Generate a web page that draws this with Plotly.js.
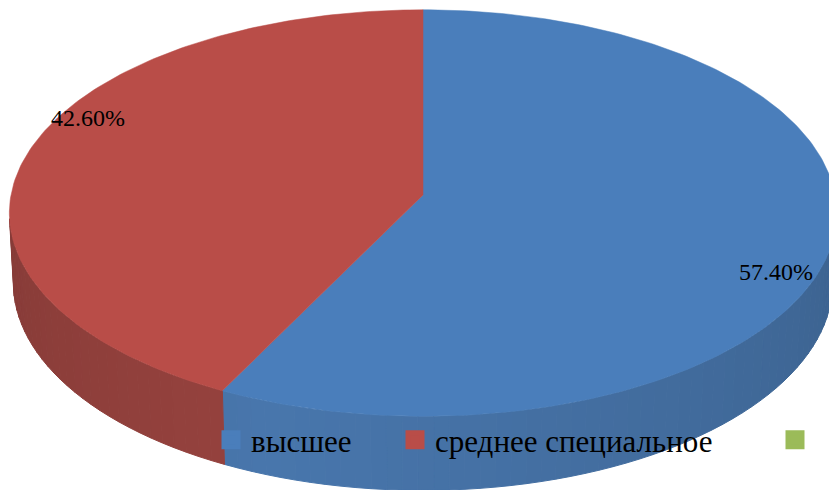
<!DOCTYPE html>
<html><head><meta charset="utf-8">
<script src="https://cdn.plot.ly/plotly-3.0.1.min.js"></script>
<style>html,body{margin:0;padding:0;background:#fff}#chart{width:829px;height:490px}</style>
</head><body><div id="chart"></div>
<script>
// ---- data ----
const categories = ['высшее', 'среднее специальное', ''];
const values = [57.4, 42.6, 0];
const labelPos = [[776, 272], [88, 118], null]; // label anchor positions (px)
// ---- styles ----
const topColors = ['#4A7EBB', '#B94D48', '#9BBB59'];
const sideBase = [[72, 118, 172], [150, 66, 62], [130, 160, 80]];
const FONT = '"Liberation Serif", serif';

// ---- simple perspective projection of a 3D pie ----
const CX = 423, CY = 195, K = 4050, D = 9.83, ALPHA = 29.3 * Math.PI / 180, H = 0.196;
const cA = Math.cos(ALPHA), sA = Math.sin(ALPHA);
function proj(phi, r, z) {
  const a = phi * Math.PI / 180;
  const X = r * Math.sin(a), Y = r * Math.cos(a);
  const depth = D + Y * cA - z * sA;
  return [CX + X * K / depth, CY - (Y * sA + z * cA) * K / depth];
}
const total = values.reduce((a, b) => a + b, 0);
const bounds = [];
let acc = 0;
values.forEach(v => { const a1 = acc / total * 360; acc += v; bounds.push([a1, acc / total * 360]); });

// visible side range (front silhouette)
const phiLimit = Math.acos(-1 / (D * cA)) * 180 / Math.PI;
const sideMin = phiLimit, sideMax = 360 - phiLimit;

const traces = [];
// legend entries (their single point sits hidden beneath the pie's top face)
const legendIds = ['legend', 'legend2', 'legend3'];
categories.forEach((c, i) => {
  traces.push({
    type: 'scatter', mode: 'markers', x: [423], y: [250], name: c,
    marker: {symbol: 'square', size: 14, color: topColors[i], line: {color: topColors[i], width: 5}},
    showlegend: true, legend: legendIds[i]
  });
});
// sides
bounds.forEach((b, i) => {
  if (values[i] <= 0) return;
  const a1 = Math.max(b[0], sideMin), a2 = Math.min(b[1], sideMax);
  if (a2 <= a1) return;
  const n = Math.max(1, Math.ceil((a2 - a1) / 2));
  for (let k = 0; k < n; k++) {
    const p1 = a1 + (a2 - a1) * k / n, p2 = a1 + (a2 - a1) * (k + 1) / n;
    const pm = (p1 + p2) / 2;
    const f = 1 - 0.13 * Math.abs(pm - 200) / 80;
    const col = 'rgb(' + sideBase[i].map(c => Math.round(c * f)).join(',') + ')';
    const pts = [proj(p1, 1, 0), proj(p2, 1, 0), proj(p2, 1, -H), proj(p1, 1, -H), proj(p1, 1, 0)];
    traces.push({
      type: 'scatter', mode: 'lines', fill: 'toself', fillcolor: col,
      x: pts.map(p => p[0]), y: pts.map(p => p[1]),
      line: {color: col, width: 1}, showlegend: false, hoverinfo: 'skip'
    });
  }
});
// tops
bounds.forEach((b, i) => {
  if (values[i] <= 0) return;
  const pts = [proj(0, 0, 0)];
  const n = Math.max(2, Math.ceil((b[1] - b[0])));
  for (let k = 0; k <= n; k++) pts.push(proj(b[0] + (b[1] - b[0]) * k / n, 1, 0));
  pts.push(proj(0, 0, 0));
  traces.push({
    type: 'scatter', mode: 'lines', fill: 'toself', fillcolor: topColors[i],
    x: pts.map(p => p[0]), y: pts.map(p => p[1]),
    line: {color: topColors[i], width: 0.5}, showlegend: false,
    name: categories[i], hoverinfo: 'name'
  });
});

const legendX = [211, 395, 775];
const legendCommon = {
  orientation: 'h', xanchor: 'left', yanchor: 'middle', y: 1 - 440 / 490,
  font: {family: FONT, size: 31, color: '#000'}, bgcolor: 'rgba(0,0,0,0)', borderwidth: 0
};
const layout = {
  width: 829, height: 490, margin: {l: 0, r: 0, t: 0, b: 0},
  paper_bgcolor: '#ffffff', plot_bgcolor: 'rgba(0,0,0,0)',
  font: {family: FONT},
  xaxis: {range: [0, 829], visible: false, fixedrange: true},
  yaxis: {range: [490, 0], visible: false, fixedrange: true},
  showlegend: true,
  legend: Object.assign({}, legendCommon, {x: legendX[0] / 829}),
  legend2: Object.assign({}, legendCommon, {x: legendX[1] / 829}),
  legend3: Object.assign({}, legendCommon, {x: legendX[2] / 829}),
  annotations: values.map((v, i) => labelPos[i] ? {
    x: labelPos[i][0], y: labelPos[i][1], xref: 'x', yref: 'y',
    text: v.toFixed(2) + '%', showarrow: false,
    font: {family: FONT, size: 24, color: '#000'}
  } : null).filter(a => a)
};
Plotly.newPlot('chart', traces, layout, {displayModeBar: false, staticPlot: true});
</script>
</body></html>
